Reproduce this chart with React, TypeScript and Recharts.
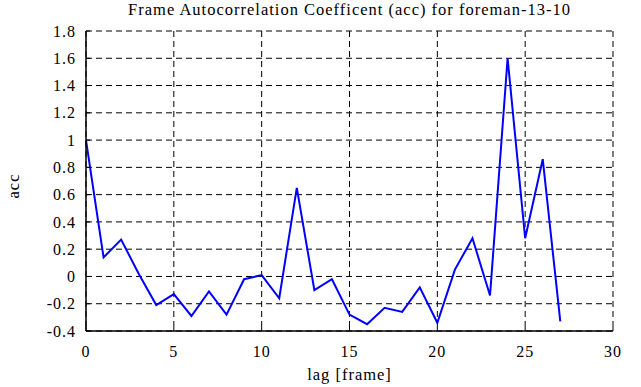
import { CartesianGrid, Line, LineChart, XAxis, YAxis } from "recharts";

const lags = [
  0, 1, 2, 3, 4, 5, 6, 7, 8, 9, 10, 11, 12, 13, 14, 15, 16, 17, 18, 19, 20, 21, 22, 23, 24, 25, 26, 27,
];
const accValues = [
  1.0, 0.14, 0.27, 0.02, -0.21, -0.13, -0.29, -0.11, -0.28, -0.02, 0.01, -0.16, 0.65, -0.1, -0.02, -0.28,
  -0.35, -0.23, -0.26, -0.08, -0.34, 0.05, 0.28, -0.14, 1.6, 0.28, 0.86, -0.33,
];
const xTicks = [0, 5, 10, 15, 20, 25, 30];
const yTicks = [-0.4, -0.2, 0, 0.2, 0.4, 0.6, 0.8, 1, 1.2, 1.4, 1.6, 1.8];

const chartTitle = "Frame Autocorrelation Coefficent (acc) for foreman-13-10";
const xLabel = "lag [frame]";
const yLabel = "acc";

const data = lags.map((lag, i) => ({ lag, acc: accValues[i] }));

const font = "Liberation Serif, DejaVu Serif, serif";
const frame = { stroke: "#000", strokeWidth: 1.5 };

const renderXTick = (props: any) => (
  <text
    key={`xt-${props.index}`}
    x={props.x}
    y={props.y}
    dy="0.71em"
    textAnchor="middle"
    fill="#000"
    style={{ fontFamily: font, fontSize: 16, letterSpacing: 1 }}
  >
    {props.payload.value}
  </text>
);

const renderYTick = (props: any) => (
  <text
    key={`yt-${props.index}`}
    x={props.x}
    y={props.y}
    dy="0.35em"
    textAnchor="end"
    fill="#000"
    style={{ fontFamily: font, fontSize: 16, letterSpacing: 1 }}
  >
    {props.payload.value}
  </text>
);

export default function App() {
  return (
    <div
      style={{
        position: "absolute",
        left: 0,
        top: 0,
        width: 641,
        height: 387,
        background: "#fff",
        fontFamily: font,
      }}
    >
      <LineChart width={641} height={387} data={data} margin={{ top: 31, right: 28, left: 0, bottom: 0 }}>
        <CartesianGrid stroke="#000" strokeDasharray="6 4" strokeWidth={1} />
        <XAxis
          dataKey="lag"
          type="number"
          domain={[0, 30]}
          ticks={xTicks}
          height={56}
          tick={renderXTick}
          tickSize={-4}
          tickMargin={19}
          tickLine={{ stroke: "#000" }}
          axisLine={frame}
        />
        <XAxis
          xAxisId="top"
          dataKey="lag"
          type="number"
          orientation="top"
          domain={[0, 30]}
          ticks={xTicks}
          height={0}
          tick={false}
          tickSize={-4}
          tickLine={{ stroke: "#000" }}
          axisLine={frame}
        />
        <YAxis
          type="number"
          domain={[-0.4, 1.8]}
          ticks={yTicks}
          width={86}
          tick={renderYTick}
          tickSize={-4}
          tickMargin={14}
          tickLine={{ stroke: "#000" }}
          axisLine={frame}
          interval={0}
        />
        <YAxis
          yAxisId="right"
          type="number"
          orientation="right"
          domain={[-0.4, 1.8]}
          ticks={yTicks}
          width={0}
          tick={false}
          tickSize={-4}
          tickLine={{ stroke: "#000" }}
          axisLine={frame}
          interval={0}
        />
        <Line
          dataKey="acc"
          stroke="#0000ff"
          strokeWidth={2}
          dot={false}
          isAnimationActive={false}
          strokeLinejoin="miter"
        />
      </LineChart>
      <div
        style={{
          position: "absolute",
          left: 86,
          width: 527,
          top: 0,
          textAlign: "center",
          fontSize: 16.5,
          letterSpacing: 1,
          lineHeight: "20px",
        }}
      >
        {chartTitle}
      </div>
      <div
        style={{
          position: "absolute",
          left: 86,
          width: 527,
          top: 365,
          textAlign: "center",
          fontSize: 16.5,
          letterSpacing: 1,
          lineHeight: "20px",
        }}
      >
        {xLabel}
      </div>
      <div
        style={{
          position: "absolute",
          left: 14,
          top: 186,
          transform: "translate(-50%, -50%) rotate(-90deg)",
          fontSize: 16.5,
          letterSpacing: 1,
          lineHeight: "20px",
          whiteSpace: "nowrap",
        }}
      >
        {yLabel}
      </div>
    </div>
  );
}
